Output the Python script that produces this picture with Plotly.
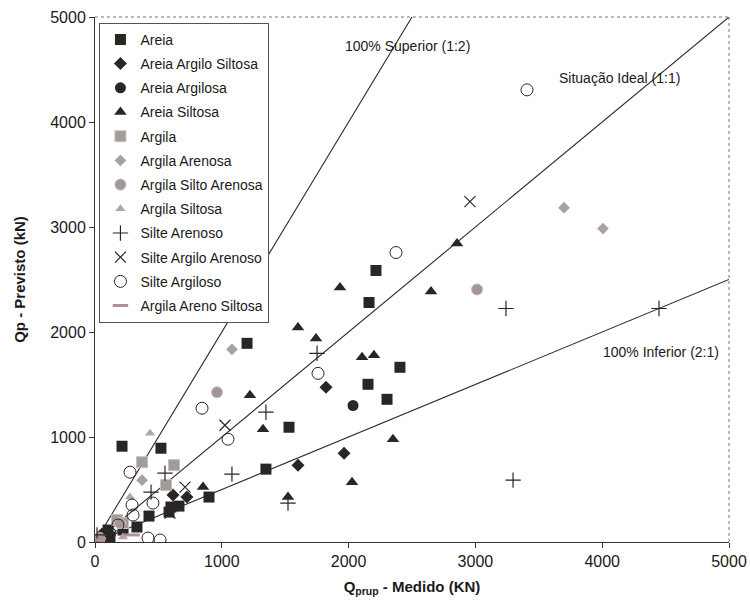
import plotly.graph_objects as go

# Medido (x) vs Previsto (y), kN, grouped by soil type
areia_x = [213, 520, 1199, 1530, 1348, 899, 2216, 2161, 2405, 2153, 2303,
           103, 599, 662, 584, 426, 331, 118, 221]
areia_y = [912, 893, 1892, 1093, 694, 428, 2586, 2281, 1664, 1502, 1359,
           114, 333, 342, 285, 247, 143, 48, 114]

areia_arg_silt_x = [1822, 1601, 1964, 725, 55, 615]
areia_arg_silt_y = [1473, 732, 846, 428, 76, 447]

areia_argilosa_x = [2035]
areia_argilosa_y = [1300]

areia_siltosa_x = [2855, 1932, 2650, 1601, 1743, 2106, 2200, 2350, 1222, 1325,
                   1522, 2027, 852]
areia_siltosa_y = [2842, 2424, 2386, 2044, 1939, 1759, 1778, 979, 1397, 1074,
                   428, 570, 523]

argila_x = [371, 560, 623, 174, 221]
argila_y = [760, 542, 732, 209, 181]

argila_arenosa_x = [3699, 4006, 1080, 371]
argila_arenosa_y = [3184, 2985, 1835, 589]

argila_silto_arenosa_x = [3013, 962, 197, 39]
argila_silto_arenosa_y = [2405, 1426, 181, 38]

argila_siltosa_x = [434, 276, 221]
argila_siltosa_y = [1036, 428, 48]

silte_arenoso_x = [3241, 4448, 3297, 1751, 1348, 1080, 552, 442, 16, 1522]
silte_arenoso_y = [2224, 2224, 589, 1797, 1236, 646, 656, 475, 67, 371]

silte_arg_aren_x = [2957, 1025, 710, 591]
silte_arg_aren_y = [3241, 1112, 523, 276]

silte_argiloso_x = [3407, 2374, 1759, 844, 1049, 276, 292, 457, 418, 513, 300, 181, 118]
silte_argiloso_y = [4306, 2757, 1606, 1274, 979, 665, 352, 371, 38, 19, 257, 162, 86]

argila_areno_silt_x = [16, 292]
argila_areno_silt_y = [19, 67]

# Reference lines: y = 2x, y = x, y = x/2
ratios = [2.0, 1.0, 0.5]
axis_max = 5000

DARK = "#2a2623"

series = [
    ("Areia", areia_x, areia_y, dict(symbol="square", size=11, color=DARK)),
    ("Areia Argilo Siltosa", areia_arg_silt_x, areia_arg_silt_y,
     dict(symbol="diamond", size=10, color=DARK)),
    ("Areia Argilosa", areia_argilosa_x, areia_argilosa_y,
     dict(symbol="circle", size=11, color=DARK)),
    ("Areia Siltosa", areia_siltosa_x, areia_siltosa_y,
     dict(symbol="triangle-up", size=11, color=DARK)),
    ("Argila", argila_x, argila_y,
     dict(symbol="square", size=11, color="#a49a9a", line=dict(color="#c8c0c0", width=1))),
    ("Argila Arenosa", argila_arenosa_x, argila_arenosa_y,
     dict(symbol="diamond", size=9, color="#aaa0a2")),
    ("Argila Silto Arenosa", argila_silto_arenosa_x, argila_silto_arenosa_y,
     dict(symbol="circle", size=11, color="#a29696", line=dict(color="#c4baba", width=1))),
    ("Argila Siltosa", argila_siltosa_x, argila_siltosa_y,
     dict(symbol="triangle-up", size=9, color="#b6a4ac")),
    ("Silte Arenoso", silte_arenoso_x, silte_arenoso_y,
     dict(symbol="cross-thin", size=11, color=DARK, line=dict(color=DARK, width=1.2))),
    ("Silte Argilo Arenoso", silte_arg_aren_x, silte_arg_aren_y,
     dict(symbol="x-thin", size=11, color=DARK, line=dict(color=DARK, width=1.2))),
    ("Silte Argiloso", silte_argiloso_x, silte_argiloso_y,
     dict(symbol="circle-open", size=12, color=DARK, line=dict(color=DARK, width=1))),
    ("Argila Areno Siltosa", argila_areno_silt_x, argila_areno_silt_y,
     dict(symbol="line-ew", size=11, color="#b08e9c", line=dict(color="#b08e9c", width=3))),
]

fig = go.Figure()

for r in ratios:
    x_end = min(axis_max, axis_max / r)
    fig.add_trace(go.Scatter(x=[0, x_end], y=[0, x_end * r], mode="lines",
                             showlegend=False, hoverinfo="skip",
                             line=dict(color="#2b2b2b", width=1.1)))

for i, (name, xs, ys, mk) in enumerate(series):
    fig.add_trace(go.Scatter(x=xs, y=ys, mode="markers", name=name, marker=mk,
                             legendgroup=f"g{i}"))

font = "Liberation Sans, Arial, sans-serif"
ticks = [0, 1000, 2000, 3000, 4000, 5000]

axis_common = dict(range=[0, axis_max], tickvals=ticks, showgrid=False,
                   zeroline=False, showline=True, linecolor="#333", linewidth=1,
                   ticks="outside", ticklen=5, tickcolor="#333", automargin=False,
                   tickfont=dict(size=16))

fig.update_layout(
    width=750, height=609,
    margin=dict(l=95, r=21, t=17, b=67),
    paper_bgcolor="white", plot_bgcolor="white",
    font=dict(family=font, size=15, color="#1a1a1a"),
    legend=dict(x=0.007, y=0.989, xanchor="left", yanchor="top",
                bordercolor="#555", borderwidth=1, bgcolor="white",
                font=dict(size=14, family=font), tracegroupgap=3,
                itemwidth=30),
    xaxis=dict(**axis_common,
               title=dict(text="<b>Q<sub>prup</sub> - Medido (KN)</b>", standoff=12,
                          font=dict(size=15))),
    yaxis=dict(**axis_common,
               title=dict(text="<b>Qp - Previsto (kN)</b>", standoff=20,
                          font=dict(size=15))),
    shapes=[
        dict(type="line", xref="paper", yref="paper", x0=0, x1=1, y0=1, y1=1,
             line=dict(color="#777", width=1, dash="dot")),
        dict(type="line", xref="paper", yref="paper", x0=1, x1=1, y0=0, y1=1,
             line=dict(color="#777", width=1, dash="dot")),
    ],
    annotations=[
        dict(x=2461, y=4724, text="100% Superior (1:2)", showarrow=False,
             font=dict(size=14), xanchor="center"),
        dict(x=4140, y=4420, text="Situação Ideal (1:1)", showarrow=False,
             font=dict(size=14), xanchor="center"),
        dict(x=4464, y=1806, text="100% Inferior (2:1)", showarrow=False,
             font=dict(size=14), xanchor="center"),
    ],
)

fig.write_html("out.html")
